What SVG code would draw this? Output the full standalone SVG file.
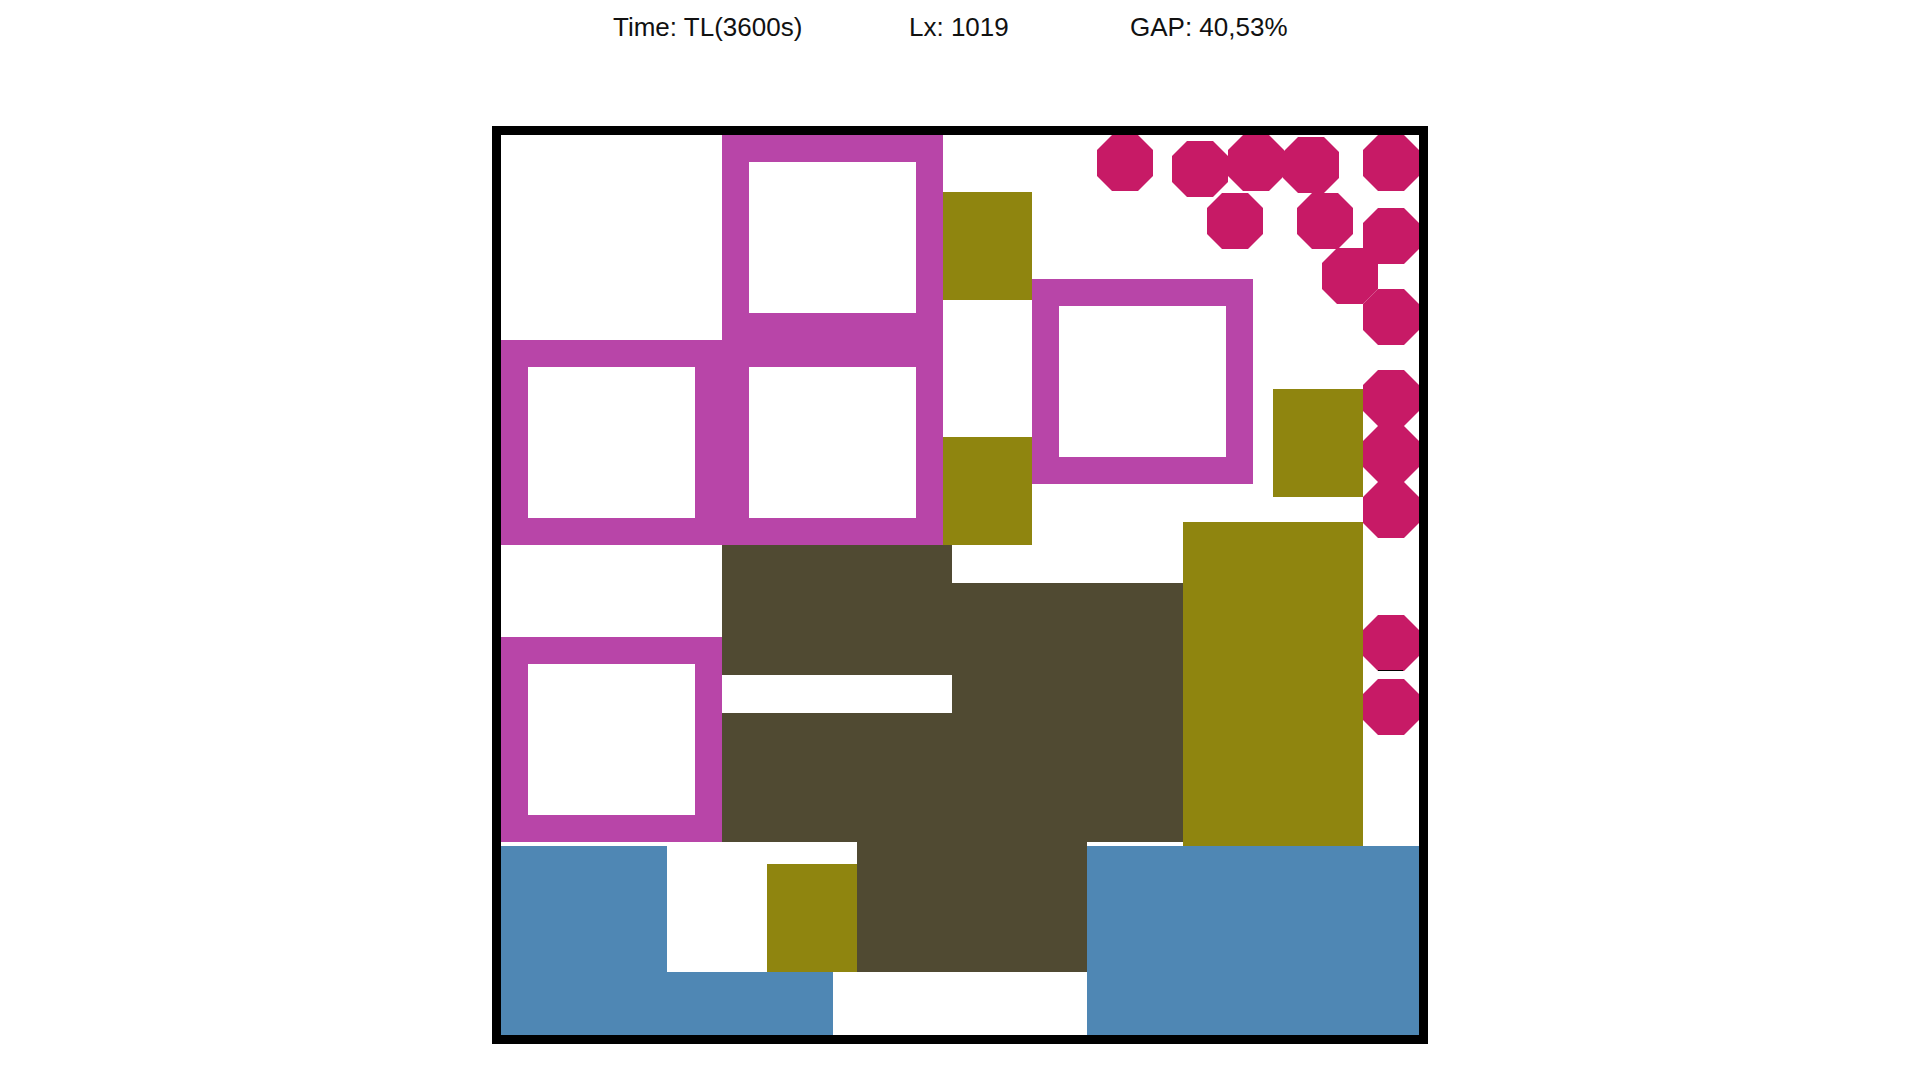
<svg xmlns="http://www.w3.org/2000/svg" xmlns:xlink="http://www.w3.org/1999/xlink" width="1920" height="1080" viewBox="0 0 1920 1080">
<style>
.t{font-family:"Liberation Sans",Arial,sans-serif;font-size:26px;fill:#111}
.mag{fill:#b845a8;fill-rule:evenodd}
.olv{fill:#8f850f}
.drk{fill:#504a32}
.blu{fill:#4f87b4}
.oct{fill:#c71a66}
</style>
<defs>
<path id="frame" d="M0,0H221V205H0Z M27,27V178H194V27Z"/>
<polygon id="octo" points="15,0 41,0 56,15 56,41 41,56 15,56 0,41 0,15"/>
</defs>
<rect width="1920" height="1080" fill="#fff"/>
<g id="header">
<text class="t" x="613" y="36">Time: TL(3600s)</text>
<text class="t" x="909" y="36">Lx: 1019</text>
<text class="t" x="1130" y="36">GAP: 40,53%</text>
</g>
<g id="dark">
<rect class="drk" x="722" y="545" width="230" height="130"/>
<rect class="drk" x="722" y="713" width="230" height="129"/>
<rect class="drk" x="952" y="583" width="231" height="259"/>
<rect class="drk" x="857" y="842" width="230" height="130"/>
</g>
<g id="blue">
<rect class="blu" x="501" y="846" width="166" height="189"/>
<rect class="blu" x="501" y="972" width="332" height="63"/>
<rect class="blu" x="1087" y="846" width="332" height="189"/>
</g>
<g id="olive">
<rect class="olv" x="942" y="192" width="90" height="108"/>
<rect class="olv" x="942" y="437" width="90" height="108"/>
<rect class="olv" x="1273" y="389" width="90" height="108"/>
<rect class="olv" x="767" y="864" width="90" height="108"/>
<rect class="olv" x="1183" y="522" width="180" height="324"/>
</g>
<g id="frames">
<use xlink:href="#frame" class="mag" x="722" y="135"/>
<use xlink:href="#frame" class="mag" x="501" y="340"/>
<use xlink:href="#frame" class="mag" x="722" y="340"/>
<use xlink:href="#frame" class="mag" x="1032" y="279"/>
<use xlink:href="#frame" class="mag" x="501" y="637"/>
</g>
<g id="octagons">
<use xlink:href="#octo" class="oct" x="1097" y="135"/>
<use xlink:href="#octo" class="oct" x="1172" y="141"/>
<use xlink:href="#octo" class="oct" x="1228" y="135"/>
<use xlink:href="#octo" class="oct" x="1283" y="137"/>
<use xlink:href="#octo" class="oct" x="1363" y="135"/>
<use xlink:href="#octo" class="oct" x="1207" y="193"/>
<use xlink:href="#octo" class="oct" x="1297" y="193"/>
<use xlink:href="#octo" class="oct" x="1363" y="208"/>
<use xlink:href="#octo" class="oct" x="1322" y="248"/>
<use xlink:href="#octo" class="oct" x="1363" y="289"/>
<use xlink:href="#octo" class="oct" x="1363" y="370"/>
<use xlink:href="#octo" class="oct" x="1363" y="426"/>
<use xlink:href="#octo" class="oct" x="1363" y="482"/>
<use xlink:href="#octo" class="oct" x="1363" y="615"/>
<use xlink:href="#octo" class="oct" x="1363" y="679"/>
<line x1="1378" y1="670.5" x2="1403" y2="670.5" stroke="#000" stroke-width="1"/>
</g>
<g id="container">
<rect x="496.5" y="130.5" width="927" height="909" fill="none" stroke="#000" stroke-width="9"/>
</g>
</svg>
